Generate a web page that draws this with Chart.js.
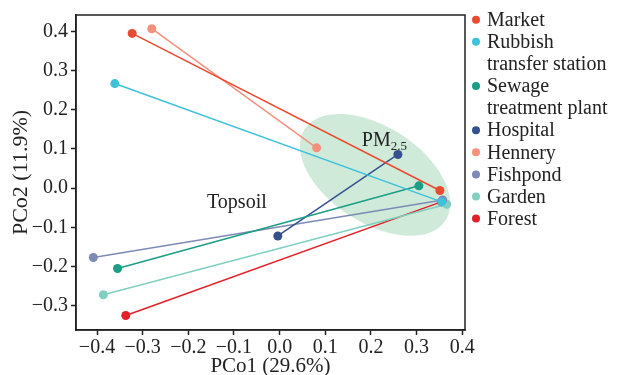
<!DOCTYPE html>
<html lang="en">
<head>
    <meta charset="UTF-8">
    <title>PCoA - Topsoil vs PM2.5</title>
    <script src="https://cdn.jsdelivr.net/npm/chart.js"></script>
    <style>
        html, body { margin: 0; padding: 0; background: #fff; }
        #wrap { width: 617px; height: 375px; }
    </style>
</head>
<body>
    <div id="wrap"><canvas id="myChart"></canvas></div>

    <script>
        // sites (legend order)
        const sites = ["Market", "Rubbish\ntransfer station", "Sewage\ntreatment plant", "Hospital",
                       "Hennery", "Fishpond", "Garden", "Forest"];
        const colors = ["#e94a30", "#3ec1da", "#1b9e85", "#34508e", "#f4917c", "#7d8ab5", "#80cfc0", "#e01f26"];

        // topsoil coordinates
        const soilX = [-0.323, -0.361, -0.355, -0.004, -0.280, -0.408, -0.386, -0.337];
        const soilY = [0.395, 0.267, -0.205, -0.122, 0.407, -0.177, -0.272, -0.325];

        // PM2.5 coordinates
        const pmX = [0.351, 0.355, 0.305, 0.259, 0.081, 0.357, 0.366, 0.354];
        const pmY = [-0.006, -0.035, 0.006, 0.086, 0.103, -0.030, -0.041, -0.035];

        const xTicks = [-0.4, -0.3, -0.2, -0.1, 0.0, 0.1, 0.2, 0.3, 0.4];
        const yTicks = [-0.3, -0.2, -0.1, 0.0, 0.1, 0.2, 0.3, 0.4];

        const serif = "'Liberation Serif', 'Times New Roman', serif";
        const ink = "#222";

        const fmt = v => (v < 0 ? "\u2212" : "") + Math.abs(v).toFixed(1);

        const datasets = sites.map((s, i) => ({
            label: s,
            data: [{ x: soilX[i], y: soilY[i] }, { x: pmX[i], y: pmY[i] }],
            borderColor: colors[i],
            backgroundColor: colors[i],
            borderWidth: 1.5,
            pointRadius: 4.5,
            pointBorderWidth: 0,
            showLine: true
        }));

        // shaded PM2.5 group ellipse + text labels
        const groupPlugin = {
            id: "groups",
            beforeDatasetsDraw(chart) {
                const { ctx, scales: { x, y } } = chart;
                ctx.save();
                ctx.beginPath();
                ctx.ellipse(x.getPixelForValue(0.209), y.getPixelForValue(0.034), 84, 48, 33 * Math.PI / 180, 0, Math.PI * 2);
                ctx.fillStyle = "rgba(150, 208, 172, 0.45)";
                ctx.fill();
                ctx.restore();
            },
            afterDatasetsDraw(chart) {
                const { ctx, scales: { x, y } } = chart;
                ctx.save();
                ctx.fillStyle = ink;
                ctx.textBaseline = "middle";
                ctx.textAlign = "left";
                ctx.font = "20px " + serif;
                const px = x.getPixelForValue(0.18), py = y.getPixelForValue(0.121);
                ctx.fillText("PM", px, py);
                const w = ctx.measureText("PM").width;
                ctx.font = "13px " + serif;
                ctx.fillText("2.5", px + w, py + 6);
                ctx.font = "20px " + serif;
                ctx.fillText("Topsoil", x.getPixelForValue(-0.159), y.getPixelForValue(-0.036));
                ctx.restore();
            }
        };

        // frame box and the two-line legend
        const framePlugin = {
            id: "frame",
            afterDraw(chart) {
                const { ctx, chartArea: a } = chart;
                ctx.save();
                ctx.strokeStyle = ink;
                ctx.lineWidth = 1.5;
                ctx.strokeRect(a.left, a.top, a.right - a.left, a.bottom - a.top);

                ctx.font = "20px " + serif;
                ctx.textBaseline = "middle";
                ctx.textAlign = "left";
                let row = 0;
                sites.forEach((s, i) => {
                    const lines = s.split("\n");
                    const ty = 20.7 + row * 22.1;
                    ctx.beginPath();
                    ctx.arc(a.right + 11, ty - 1, 4, 0, Math.PI * 2);
                    ctx.fillStyle = colors[i];
                    ctx.fill();
                    ctx.fillStyle = ink;
                    lines.forEach((t, k) => ctx.fillText(t, a.right + 22, ty + k * 22.1));
                    row += lines.length;
                });
                ctx.restore();
            }
        };

        const ctx = document.getElementById("myChart").getContext("2d");
        new Chart(ctx, {
            type: "scatter",
            data: { datasets: datasets },
            options: {
                responsive: true,
                maintainAspectRatio: false,
                animation: false,
                layout: { padding: { top: 14, right: 152, left: 0, bottom: 0 } },
                plugins: { legend: { display: false }, tooltip: { enabled: false } },
                scales: {
                    x: {
                        min: -0.446, max: 0.406,
                        afterFit: s => { s.height = 45; },
                        afterBuildTicks: s => { s.ticks = xTicks.map(v => ({ value: v })); },
                        ticks: { callback: fmt, font: { family: serif, size: 20 }, color: ink, padding: 1, maxRotation: 0, autoSkip: false },
                        grid: { drawOnChartArea: false, drawTicks: true, tickLength: 5, tickColor: ink, tickWidth: 1.5 },
                        border: { display: true, color: ink, width: 1.5 },
                        title: { display: true, text: "PCo1 (29.6%)", color: ink, font: { family: serif, size: 21, lineHeight: 0.8 }, padding: { top: 0, bottom: 0 } }
                    },
                    y: {
                        min: -0.362, max: 0.442,
                        afterFit: s => { s.width = 76; },
                        afterBuildTicks: s => { s.ticks = yTicks.map(v => ({ value: v })); },
                        ticks: { callback: fmt, font: { family: serif, size: 20 }, color: ink, padding: 3, autoSkip: false },
                        grid: { drawOnChartArea: false, drawTicks: true, tickLength: 5, tickColor: ink, tickWidth: 1.5 },
                        border: { display: true, color: ink, width: 1.5 },
                        title: { display: true, text: "PCo2 (11.9%)", color: ink, font: { family: serif, size: 22 }, padding: { top: 8, bottom: 0 } }
                    }
                }
            },
            plugins: [groupPlugin, framePlugin]
        });
    </script>
</body>
</html>
